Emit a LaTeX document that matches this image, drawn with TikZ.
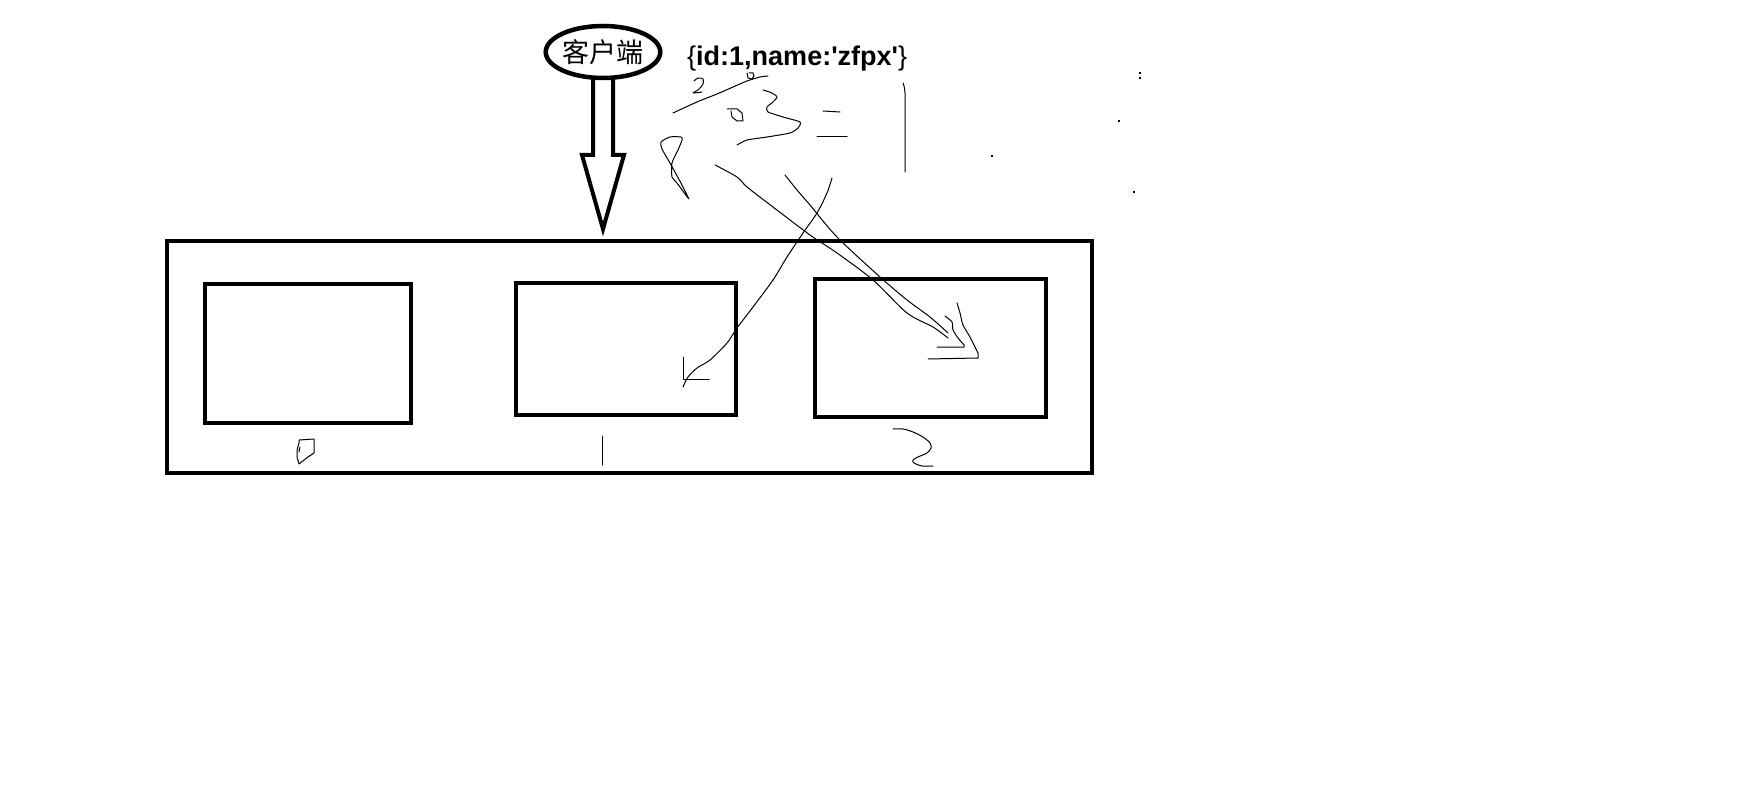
\documentclass[tikz,border=0pt]{standalone}
\usepackage{fontspec}
\newfontfamily\datafont{Liberation Sans}
\newfontfamily\cjk{Noto Sans CJK SC}
\usetikzlibrary{shapes.geometric,calc}
\begin{document}
\begin{tikzpicture}[x=1pt,y=-1pt,
  heavybox/.style={draw, rectangle, line width=4.5pt, inner sep=0pt, outer sep=0pt},
  pen/.style={line width=1pt, line join=round, line cap=round},
  dotmark/.style={fill=black, inner sep=0pt, minimum size=1.6pt, shape=rectangle}
]
\useasboundingbox (0,0) rectangle (1745,802);
\fill[white] (0,0) rectangle (1745,802);

% boxes
\node[heavybox, minimum width=925pt, minimum height=232pt] (outer) at (629.5,357) {};
\node[heavybox, minimum width=206pt, minimum height=139pt] (box0) at (308,353.5) {};
\node[heavybox, minimum width=220pt, minimum height=132pt] (box1) at (626,349) {};
\node[heavybox, minimum width=231pt, minimum height=138pt] (box2) at (930.5,348) {};

% client ellipse
\node[draw, ellipse, line width=4.5pt, minimum width=106pt, minimum height=52pt,
      inner sep=0pt, outer sep=0pt, font=\cjk\fontsize{27}{27}\selectfont] (client) at (603,52) {客户端};

% hollow arrow
\coordinate (tip) at ($(client.south |- outer.north)+(0,-12)$);
\draw[line width=4pt, line join=miter]
  ($(client.south)+(-10,0)$) -- ($(client.south)+(-10,77)$) -- ($(client.south)+(-21,77)$)
  -- (tip) -- ($(client.south)+(21,77)$) -- ($(client.south)+(10,77)$) -- ($(client.south)+(10,0)$);

% data text
\node[anchor=base west, inner sep=0pt, font=\datafont\fontsize{27}{30}\selectfont] (data) at (687,66)
  {\{\textbf{id:1,name:'zfpx'}\}};

% scribbles near the text
\draw[pen] plot[smooth, tension=0.5] coordinates {(694,81) (698,78) (703,79) (703,84) (698,90) (693,93) (702,92)};
\draw[pen] plot[smooth, tension=0.5] coordinates {(673,113) (697,102) (717,94) (733,87) (747,81) (760,77) (768,76)};
\draw[pen] (747,73) -- (748,78) -- (752,79) -- (754,76) -- (753,73) -- (749,73);
\draw[pen] (727,109) -- (737,109) -- (742,113) -- (743,121) -- (737,121) -- (732,117) -- (731,111);
\draw[pen] plot[smooth, tension=0.4] coordinates {(763,90) (772,93) (777,97) (773,102) (767,107) (768,112) (783,117) (800,122) (798,128) (790,133) (767,137) (747,140) (737,145)};
\draw[pen] (823,111) -- (840,112);
\draw[pen] (817,137) -- (847,137);
\draw[pen] plot[smooth, tension=0.5] coordinates {(903,83) (905,93) (905,130) (905,172)};
\draw[pen] plot[smooth, tension=0.4] coordinates {(688,198) (677,183) (672,177) (672,163) (678,150) (682,140) (681,137) (670,137) (661,142) (662,149) (670,163) (682,185) (689,199)};

% scribbled arrow to box 2 (double stroke)
\draw[pen] plot[smooth, tension=0.5] coordinates {(715,165) (737,177) (747,187) (773,207) (810,235) (837,253) (873,280) (907,313) (933,327) (948,338)};
\draw[pen] plot[smooth, tension=0.5] coordinates {(785,175) (797,190) (810,205) (837,237) (880,277) (907,300) (930,317) (948,333)};
\draw[pen] plot[smooth, tension=0.4] coordinates {(945,316) (952,322) (953,330) (958,338) (964,345)} -- (964,347) -- (937,347);
\draw[pen] plot[smooth, tension=0.4] coordinates {(957,303) (960,313) (963,325) (970,337) (975,347) (978,353)} -- (978,358) -- (928,359);

% scribbled arrow to box 1
\draw[pen] plot[smooth, tension=0.5] coordinates {(832,178) (827,193) (817,213) (803,233) (787,257) (773,280) (753,307) (737,328) (727,343) (710,360) (697,368) (688,377) (683,387)};
\draw[pen] (683,357) -- (683,379) -- (709,379);

% handwritten labels under the boxes
\draw[pen] (299,440) -- (314,439) -- (314,453) -- (308,457) -- (299,464) -- (297,457) -- (297,450) -- (299,443) -- (299,440);
\draw[pen] (300,447) -- (299,452);
\draw[pen] (602,436) -- (602,465);
\draw[pen] plot[smooth, tension=0.5] coordinates {(893,429) (903,429) (913,432) (923,437) (930,443) (931,448) (927,453) (918,457) (913,460) (914,463) (922,466) (933,466)};

% stray dots
\node[dotmark] (d1) at (1140,73) {};
\node[dotmark] (d2) at (1140,78) {};
\node[dotmark] (d3) at (1119,121) {};
\node[dotmark] (d4) at (1134,192) {};
\node[dotmark] (d5) at (992,156) {};
\end{tikzpicture}
\end{document}
